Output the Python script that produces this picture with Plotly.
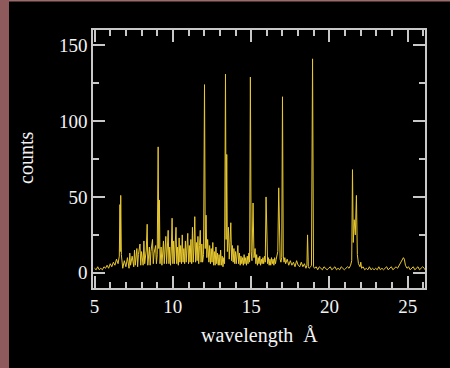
import plotly.graph_objects as go

# wavelength (Angstrom) and counts
wavelength = [
    5.0, 5.1, 5.2, 5.3, 5.4, 5.5, 5.6, 5.7, 5.8, 5.9, 6.0, 6.1, 6.2, 6.3, 6.4, 6.5, 6.58,
    6.62, 6.64, 6.67, 6.71,
    6.8, 6.9, 7.0, 7.1, 7.2, 7.25, 7.3, 7.4, 7.5, 7.55, 7.6, 7.7, 7.75, 7.8, 7.9, 7.95,
    8.0, 8.1, 8.15, 8.2, 8.3, 8.36, 8.4, 8.5, 8.55, 8.6, 8.7, 8.75, 8.8, 8.9, 8.95,
    9.0, 9.06, 9.1, 9.14, 9.18, 9.25, 9.3, 9.4, 9.45, 9.5, 9.55, 9.6, 9.7, 9.75, 9.8, 9.85, 9.9, 9.95,
    10.0, 10.05, 10.1, 10.15, 10.2, 10.25, 10.3, 10.35, 10.4, 10.45, 10.5, 10.55, 10.6, 10.65, 10.7, 10.75,
    10.8, 10.85, 10.9, 10.95, 11.0, 11.05, 11.1, 11.15, 11.2, 11.25, 11.3, 11.35, 11.4, 11.45, 11.5, 11.55,
    11.6, 11.65, 11.7, 11.75, 11.8, 11.85, 11.9, 11.96,
    12.02, 12.07, 12.12, 12.17, 12.22, 12.3, 12.35, 12.4, 12.45, 12.5, 12.55, 12.6, 12.65, 12.7, 12.75,
    12.8, 12.85, 12.9, 12.95, 13.0, 13.05, 13.1, 13.15, 13.2, 13.25, 13.3,
    13.36, 13.4, 13.44, 13.48, 13.55, 13.6, 13.65, 13.7, 13.75, 13.8, 13.85, 13.9, 13.95,
    14.0, 14.05, 14.1, 14.15, 14.2, 14.25, 14.3, 14.35, 14.4, 14.45, 14.5, 14.55, 14.6, 14.65, 14.7, 14.75,
    14.8, 14.85, 14.9,
    14.95, 15.0, 15.05, 15.12, 15.18, 15.25, 15.3, 15.35, 15.4, 15.45, 15.5, 15.55, 15.6, 15.65, 15.7,
    15.75, 15.8, 15.85, 15.9, 15.95,
    16.0, 16.05, 16.1, 16.15, 16.2, 16.25, 16.3, 16.35, 16.4, 16.45, 16.5, 16.55, 16.6, 16.65, 16.7,
    16.76, 16.8, 16.85, 16.9, 16.95,
    17.0, 17.05, 17.1, 17.15, 17.2, 17.3, 17.4, 17.5, 17.6, 17.7, 17.8, 17.9,
    18.0, 18.1, 18.2, 18.3, 18.4, 18.5, 18.56, 18.6, 18.65, 18.7, 18.8, 18.85,
    18.92, 18.98, 19.05, 19.15, 19.25, 19.35, 19.45, 19.55, 19.65, 19.75, 19.85, 19.95,
    20.05, 20.15, 20.25, 20.35, 20.45, 20.55, 20.65, 20.75, 20.85, 20.95,
    21.05, 21.15, 21.25, 21.35, 21.42, 21.47, 21.52, 21.58, 21.65, 21.72, 21.78, 21.85, 21.95,
    22.0, 22.05, 22.15, 22.25, 22.35, 22.45, 22.55, 22.65, 22.75, 22.85, 22.95,
    23.05, 23.15, 23.25, 23.35, 23.45, 23.55, 23.65, 23.75, 23.85, 23.95,
    24.05, 24.15, 24.25, 24.35, 24.45, 24.55, 24.65, 24.72, 24.78, 24.85, 24.95,
    25.05, 25.15, 25.25, 25.35, 25.45, 25.55, 25.65, 25.75, 25.85, 25.95, 26.05, 26.1,
]
counts = [
    3, 2, 4, 2, 3, 2, 4, 3, 5, 3, 6, 4, 7, 5, 9, 6, 11,
    45, 14, 51, 12,
    3, 8, 4, 10, 3, 13, 5, 11, 4, 15, 5, 16, 4, 12, 19, 5,
    14, 5, 21, 6, 15, 32, 5, 17, 5, 14, 22, 6, 13, 18, 6,
    12, 83, 16, 48, 6, 17, 5, 21, 6, 15, 24, 6, 28, 6, 17, 5, 15, 36,
    6, 21, 6, 19, 30, 6, 17, 5, 23, 7, 18, 6, 25, 7, 16, 6,
    21, 7, 16, 26, 6, 18, 7, 22, 6, 30, 7, 17, 37, 7, 20, 8,
    24, 6, 18, 28, 7, 19, 7, 12,
    124, 16, 38, 10, 22, 7, 18, 6, 16, 7, 20, 5, 14, 5, 17,
    6, 13, 5, 12, 5, 15, 5, 11, 4, 10, 6,
    131, 22, 78, 14, 30, 9, 20, 33, 8, 18, 7, 16, 6,
    14, 6, 12, 18, 6, 13, 5, 11, 6, 10, 5, 12, 6, 10, 5, 11,
    6, 13, 7,
    129, 14, 8, 46, 10, 16, 6, 12, 5, 10, 6, 11, 5, 9, 6,
    10, 6, 11, 7, 50,
    9, 6, 10, 5, 9, 5, 10, 6, 9, 5, 10, 6, 9, 12, 14,
    56, 14, 9, 7, 10,
    116, 11, 7, 10, 6, 9, 5, 8, 5, 7, 4, 8,
    5, 4, 7, 4, 6, 3, 5, 25, 4, 3, 4, 5,
    141, 4, 3, 4, 2, 4, 3, 2, 4, 3, 2, 3,
    4, 2, 3, 4, 2, 3, 2, 4, 3, 2,
    3, 4, 3, 5, 8, 68, 20, 35, 25, 51, 12, 6, 4,
    7, 3, 4, 2, 3, 2, 4, 2, 3, 2, 3,
    2, 4, 2, 3, 2, 3, 4, 2, 3, 4,
    2, 3, 4, 3, 5, 6, 8, 10, 9, 5, 3,
    4, 2, 3, 4, 2, 3, 4, 2, 3, 4, 3, 2,
]

x_ticks = [5, 10, 15, 20, 25]
y_ticks = [0, 50, 100, 150]

W, H = 450, 368
ML, MR, MT, MB = 93, 25, 30, 80
PW, PH = W - ML - MR, H - MT - MB


def px_x(px):
    return (px - ML) / PW


def px_y(py):
    return (H - MB - py) / PH


fig = go.Figure()
fig.add_trace(go.Scatter(
    x=wavelength, y=counts, mode="lines",
    line=dict(color="#e8c830", width=1.0),
    hoverinfo="skip", showlegend=False,
))

axis_col = "#c8c8c8"
font_col = "#f2f2f2"
serif = "Liberation Serif, Times New Roman, serif"

fig.update_xaxes(
    range=[4.9, 26.1], tickvals=x_ticks, ticktext=[str(v) for v in x_ticks],
    ticks="inside", ticklen=12, tickwidth=1.5, tickcolor=axis_col,
    minor=dict(dtick=1, tick0=5, ticks="inside", ticklen=6, tickwidth=1.5, tickcolor=axis_col, showgrid=False),
    showline=True, linecolor=axis_col, linewidth=1.5, mirror="ticks",
    showgrid=False, zeroline=False,
    tickfont=dict(family=serif, size=19, color=font_col),
)
fig.update_yaxes(
    range=[-10, 160], tickvals=y_ticks, ticktext=[str(v) for v in y_ticks],
    ticks="inside", ticklen=12, tickwidth=1.5, tickcolor=axis_col,
    minor=dict(dtick=25, tick0=0, ticks="inside", ticklen=6, tickwidth=1.5, tickcolor=axis_col, showgrid=False),
    showline=True, linecolor=axis_col, linewidth=1.5, mirror="ticks",
    showgrid=False, zeroline=False,
    tickfont=dict(family=serif, size=19, color=font_col),
)

fig.update_layout(
    width=W, height=H,
    margin=dict(l=ML, r=MR, t=MT, b=MB, pad=0),
    paper_bgcolor="#000000", plot_bgcolor="#000000",
    shapes=[
        dict(type="rect", xref="paper", yref="paper",
             x0=px_x(-2), x1=px_x(9), y0=px_y(H + 2), y1=px_y(-2),
             fillcolor="#8e5a5c", line=dict(width=0), layer="below"),
        dict(type="rect", xref="paper", yref="paper",
             x0=px_x(9), x1=px_x(W + 2), y0=px_y(1.5), y1=px_y(-2),
             fillcolor="#9a6a6c", line=dict(width=0), layer="below"),
    ],
    annotations=[
        dict(text="counts", xref="paper", yref="paper", x=px_x(26), y=px_y(158),
             textangle=-90, showarrow=False, xanchor="center", yanchor="middle",
             font=dict(family=serif, size=20, color=font_col)),
        dict(text="wavelength  Å", xref="paper", yref="paper", x=px_x(259), y=px_y(336),
             showarrow=False, xanchor="center", yanchor="middle",
             font=dict(family=serif, size=20, color=font_col)),
    ],
)

fig.write_html(
    "out.html",
    config={"displayModeBar": False},
    post_script="document.body.style.margin='0';document.body.style.background='#000';",
)
